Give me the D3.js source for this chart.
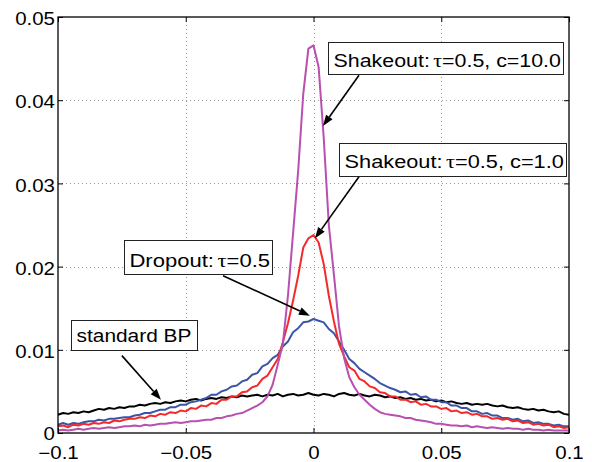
<!DOCTYPE html>
<html><head><meta charset="utf-8">
<script src="https://cdn.jsdelivr.net/npm/d3@7"></script>
<style>body{margin:0;background:#fff}svg{display:block}</style>
</head><body><svg id="c" width="592" height="462"></svg>
<script>
// bin centres of the weight histograms
const binCenters=[
-0.100,-0.098,-0.096,-0.094,-0.092,-0.090,-0.088,-0.086,-0.084,-0.082,
-0.080,-0.078,-0.076,-0.074,-0.072,-0.070,-0.068,-0.066,-0.064,-0.062,
-0.060,-0.058,-0.056,-0.054,-0.052,-0.050,-0.048,-0.046,-0.044,-0.042,
-0.040,-0.038,-0.036,-0.034,-0.032,-0.030,-0.028,-0.026,-0.024,-0.022,
-0.020,-0.018,-0.016,-0.014,-0.012,-0.010,-0.008,-0.006,-0.004,-0.002,
0.000,0.002,0.004,0.006,0.008,0.010,0.012,0.014,0.016,0.018,
0.020,0.022,0.024,0.026,0.028,0.030,0.032,0.034,0.036,0.038,
0.040,0.042,0.044,0.046,0.048,0.050,0.052,0.054,0.056,0.058,
0.060,0.062,0.064,0.066,0.068,0.070,0.072,0.074,0.076,0.078,
0.080,0.082,0.084,0.086,0.088,0.090,0.092,0.094,0.096,0.098,
0.100];
const standardBP=[
0.0022,0.0024,0.0023,0.0025,0.0024,0.0026,0.0025,0.0027,0.0029,0.0028,
0.0030,0.0029,0.0031,0.0030,0.0032,0.0032,0.0034,0.0033,0.0035,0.0036,
0.0035,0.0037,0.0036,0.0038,0.0039,0.0038,0.0040,0.0041,0.0039,0.0041,
0.0042,0.0041,0.0043,0.0042,0.0044,0.0043,0.0045,0.0044,0.0045,0.0046,
0.0044,0.0046,0.0045,0.0047,0.0044,0.0046,0.0047,0.0045,0.0046,0.0048,
0.0046,0.0045,0.0047,0.0046,0.0044,0.0047,0.0048,0.0046,0.0045,0.0047,
0.0045,0.0044,0.0046,0.0045,0.0043,0.0044,0.0042,0.0043,0.0041,0.0042,
0.0040,0.0041,0.0039,0.0040,0.0038,0.0039,0.0037,0.0038,0.0036,0.0035,
0.0036,0.0034,0.0035,0.0034,0.0035,0.0033,0.0032,0.0033,0.0031,0.0030,
0.0031,0.0029,0.0028,0.0029,0.0027,0.0028,0.0026,0.0025,0.0026,0.0023,
0.0022];
const dropout=[
0.0010,0.0012,0.0010,0.0012,0.0011,0.0013,0.0014,0.0014,0.0016,0.0015,
0.0017,0.0017,0.0018,0.0019,0.0019,0.0021,0.0022,0.0024,0.0024,0.0026,
0.0028,0.0028,0.0031,0.0031,0.0034,0.0034,0.0037,0.0038,0.0040,0.0042,
0.0046,0.0046,0.0050,0.0052,0.0056,0.0057,0.0062,0.0064,0.0070,0.0072,
0.0080,0.0083,0.0090,0.0094,0.0104,0.0110,0.0121,0.0126,0.0133,0.0134,
0.0137,0.0135,0.0133,0.0125,0.0120,0.0110,0.0100,0.0089,0.0084,0.0077,
0.0073,0.0069,0.0065,0.0060,0.0057,0.0054,0.0052,0.0049,0.0050,0.0046,
0.0047,0.0043,0.0044,0.0040,0.0040,0.0037,0.0037,0.0033,0.0033,0.0030,
0.0030,0.0026,0.0026,0.0023,0.0024,0.0021,0.0021,0.0018,0.0018,0.0016,
0.0017,0.0014,0.0015,0.0012,0.0013,0.0011,0.0011,0.0009,0.0010,0.0008,
0.0008];
const shakeoutC1=[
0.0008,0.0009,0.0007,0.0010,0.0009,0.0011,0.0010,0.0012,0.0011,0.0013,
0.0012,0.0015,0.0014,0.0016,0.0017,0.0017,0.0019,0.0018,0.0021,0.0020,
0.0023,0.0022,0.0025,0.0024,0.0027,0.0026,0.0030,0.0029,0.0033,0.0032,
0.0036,0.0035,0.0040,0.0040,0.0044,0.0044,0.0049,0.0050,0.0055,0.0057,
0.0065,0.0069,0.0079,0.0089,0.0109,0.0132,0.0159,0.0189,0.0223,0.0234,
0.0238,0.0229,0.0203,0.0165,0.0134,0.0107,0.0092,0.0079,0.0075,0.0065,
0.0062,0.0056,0.0054,0.0049,0.0048,0.0044,0.0044,0.0040,0.0040,0.0037,
0.0038,0.0034,0.0035,0.0032,0.0032,0.0029,0.0030,0.0026,0.0027,0.0024,
0.0025,0.0022,0.0023,0.0020,0.0020,0.0017,0.0018,0.0016,0.0017,0.0014,
0.0015,0.0012,0.0013,0.0010,0.0011,0.0009,0.0010,0.0007,0.0008,0.0006,
0.0007];
const shakeoutC10=[
0.0003,0.0004,0.0003,0.0004,0.0005,0.0004,0.0005,0.0006,0.0005,0.0006,
0.0007,0.0006,0.0007,0.0008,0.0008,0.0009,0.0008,0.0010,0.0009,0.0010,
0.0011,0.0011,0.0012,0.0013,0.0012,0.0013,0.0014,0.0014,0.0015,0.0016,
0.0016,0.0018,0.0018,0.0020,0.0021,0.0023,0.0024,0.0027,0.0030,0.0033,
0.0037,0.0044,0.0058,0.0082,0.0107,0.0165,0.0240,0.0315,0.0408,0.0462,
0.0466,0.0440,0.0355,0.0250,0.0190,0.0128,0.0090,0.0067,0.0055,0.0046,
0.0040,0.0034,0.0029,0.0025,0.0023,0.0022,0.0021,0.0020,0.0018,0.0018,
0.0016,0.0015,0.0014,0.0013,0.0011,0.0011,0.0010,0.0009,0.0009,0.0008,
0.0009,0.0007,0.0008,0.0007,0.0006,0.0007,0.0006,0.0005,0.0006,0.0005,
0.0005,0.0004,0.0005,0.0004,0.0004,0.0003,0.0004,0.0003,0.0003,0.0003,
0.0003];
const xTickValues=[-0.1,-0.05,0,0.05,0.1];
const xTickLabels=["\u22120.1","\u22120.05","0","0.05","0.1"];
const yTickValues=[0,0.01,0.02,0.03,0.04,0.05];
const yTickLabels=["0","0.01","0.02","0.03","0.04","0.05"];
const seriesNames=["standard BP","Dropout","Shakeout c=1.0","Shakeout c=10.0"];

// ---------- layout / style ----------
const W=592,H=462,m={l:58,t:17,r:23,b:29};
const FONT="'Liberation Sans', Arial, Helvetica, sans-serif";
const series=[
 {name:seriesNames[0],values:standardBP,color:"#000000"},
 {name:seriesNames[1],values:dropout,color:"#3a55a6"},
 {name:seriesNames[2],values:shakeoutC1,color:"#f42a2a"},
 {name:seriesNames[3],values:shakeoutC10,color:"#b850b0"}
];
const annotations=[
 {pre:"Shakeout:",tau:true,post:"=0.5, c=10.0",box:[0.0057,0.0977,0.0470,0.0431],from:[0.0178,0.0430],to:[0.0037,0.0369]},
 {pre:"Shakeout:",tau:true,post:"=0.5, c=1.0",box:[0.0100,0.0988,0.0349,0.0309],from:[0.0178,0.0308],to:[0.0006,0.0234]},
 {pre:"Dropout:",tau:true,post:"=0.5",box:[-0.0742,-0.0162,0.0232,0.0191],from:[-0.0354,0.0189],to:[-0.0014,0.0141]},
 {pre:"standard BP",tau:false,post:"",box:[-0.0949,-0.0456,0.0136,0.0100],from:[-0.0750,0.0093],to:[-0.0597,0.0040]}
];

const svg=d3.select("#c");
const x=d3.scaleLinear().domain([-0.1,0.1]).range([m.l,W-m.r]);
const y=d3.scaleLinear().domain([0,0.05]).range([H-m.b,m.t]);

svg.append("rect").attr("width",W).attr("height",H).attr("fill","#fff");

// grid
const grid=svg.append("g").attr("stroke","#9a9a9a").attr("stroke-width",1).attr("stroke-dasharray","1,3");
grid.selectAll("line.gx").data(xTickValues.slice(1,-1)).join("line")
 .attr("x1",d=>Math.round(x(d))+0.5).attr("x2",d=>Math.round(x(d))+0.5).attr("y1",y(0.05)).attr("y2",y(0));
grid.selectAll("line.gy").data(yTickValues.slice(1,-1)).join("line").attr("class","gy")
 .attr("y1",d=>Math.round(y(d))+0.5).attr("y2",d=>Math.round(y(d))+0.5).attr("x1",x(-0.1)).attr("x2",x(0.1));

// lines
const line=d3.line().x((d,i)=>x(binCenters[i])).y(d=>y(d));
svg.append("g").selectAll("path").data(series).join("path")
 .attr("d",s=>line(s.values)).attr("fill","none").attr("stroke",s=>s.color)
 .attr("stroke-width",2).attr("stroke-linejoin","round");

// axes
const SX=1.17;
const gB=svg.append("g").attr("transform",`translate(0,${y(0)})`)
 .call(d3.axisBottom(x).tickValues(xTickValues).tickSize(-5).tickFormat((d,i)=>xTickLabels[i]));
const gT=svg.append("g").attr("transform",`translate(0,${y(0.05)})`)
 .call(d3.axisTop(x).tickValues(xTickValues).tickSize(-5).tickFormat(""));
const gL=svg.append("g").attr("transform",`translate(${x(-0.1)},0)`)
 .call(d3.axisLeft(y).tickValues(yTickValues).tickSize(-5).tickFormat((d,i)=>yTickLabels[i]));
const gR=svg.append("g").attr("transform",`translate(${x(0.1)},0)`)
 .call(d3.axisRight(y).tickValues(yTickValues).tickSize(-5).tickFormat(""));
[gB,gT,gL,gR].forEach(g=>{g.select(".domain").remove();g.selectAll("line").attr("stroke","#000").attr("stroke-width",1);});
gB.selectAll("text").attr("font-family",FONT).attr("font-size",17.5).attr("fill","#000")
 .attr("y",26).attr("dy",0).attr("transform",`scale(${SX},1)`);
gL.selectAll("text").attr("font-family",FONT).attr("font-size",17.5).attr("fill","#000")
 .attr("x",-3/SX).attr("dy",(d,i)=>i===0?"0.36em":"0.44em").attr("transform",`scale(${SX},1)`);

// frame
svg.append("rect").attr("x",x(-0.1)).attr("y",y(0.05)).attr("width",x(0.1)-x(-0.1)).attr("height",y(0)-y(0.05))
 .attr("fill","none").attr("stroke","#000").attr("stroke-width",1.3);

// annotations
const ag=svg.append("g");
annotations.forEach(a=>{
 const x0=x(a.box[0]),x1=x(a.box[1]),yt=y(a.box[2]),yb=y(a.box[3]);
 const sx=x(a.from[0]),sy=y(a.from[1]),tx=x(a.to[0]),ty=y(a.to[1]);
 const len=Math.hypot(tx-sx,ty-sy),dx=(tx-sx)/len,dy=(ty-sy)/len;
 const L=11,w=4,bx=tx-dx*L,by=ty-dy*L;
 ag.append("line").attr("x1",sx).attr("y1",sy).attr("x2",bx).attr("y2",by).attr("stroke","#000").attr("stroke-width",1.6);
 ag.append("path").attr("d",`M${tx},${ty}L${bx-dy*w},${by+dx*w}L${bx+dy*w},${by-dx*w}Z`).attr("fill","#000");
 ag.append("rect").attr("x",Math.round(x0)+0.5).attr("y",Math.round(yt)+0.5).attr("width",Math.round(x1-x0)).attr("height",Math.round(yb-yt))
  .attr("fill","#fff").attr("stroke","#222").attr("stroke-width",1);
 const t=ag.append("text").attr("font-family",FONT).attr("font-size",18.5).attr("fill","#000");
 t.append("tspan").text(a.pre);
 if(a.tau){
  t.append("tspan").attr("dx",3).attr("font-family","'Liberation Serif','DejaVu Serif',serif").attr("font-size",19).text("\u03c4");
  t.append("tspan").text(a.post);
 }
 const tw=t.node().getComputedTextLength();
 const target=(x1-x0)-11;
 t.attr("transform",`translate(${x0+5.5},${yb-7.5}) scale(${target/tw},1)`);
});
</script></body></html>
